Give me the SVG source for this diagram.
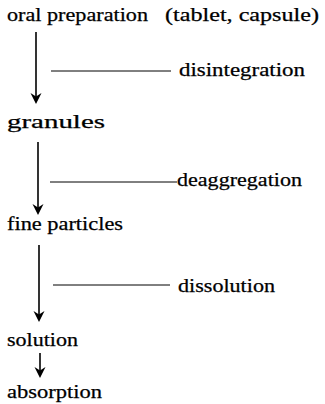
<svg xmlns="http://www.w3.org/2000/svg" width="325" height="404" viewBox="0 0 325 404">
<defs>
<style>
text{font-family:"Liberation Serif","Times New Roman",serif;font-size:19px;fill:#000;stroke:#000;stroke-width:0.25}
.ln{stroke:#000;stroke-width:1.6;fill:none}
.lb{stroke:#000;stroke-width:1;fill:none}
.ah{fill:#000}
</style>
</defs>
<rect width="325" height="404" fill="#fff"/>
<g id="oral-preparation"><text x="7" y="21" textLength="141" lengthAdjust="spacingAndGlyphs">oral preparation</text></g>
<g id="tablet-capsule"><text x="165" y="21" textLength="154" lengthAdjust="spacingAndGlyphs">(tablet, capsule)</text></g>
<g id="granules"><text x="7" y="128" textLength="98" lengthAdjust="spacingAndGlyphs">granules</text></g>
<g id="fine-particles"><text x="7" y="230" textLength="116" lengthAdjust="spacingAndGlyphs">fine particles</text></g>
<g id="solution"><text x="7" y="346" textLength="71" lengthAdjust="spacingAndGlyphs">solution</text></g>
<g id="absorption"><text x="7" y="398" textLength="95" lengthAdjust="spacingAndGlyphs">absorption</text></g>
<g id="disintegration"><text x="179" y="76" textLength="126" lengthAdjust="spacingAndGlyphs">disintegration</text></g>
<g id="deaggregation"><text x="177" y="186" textLength="125" lengthAdjust="spacingAndGlyphs">deaggregation</text></g>
<g id="dissolution"><text x="178" y="292" textLength="97" lengthAdjust="spacingAndGlyphs">dissolution</text></g>
<g id="connectors">
<path class="ln" d="M36,32 V100"/>
<path class="ah" d="M36,104 L30.5,93 L36,96.5 L41.5,93 Z"/>
<path class="ln" d="M38,142 V211"/>
<path class="ah" d="M38,215 L32.5,204 L38,207.5 L43.5,204 Z"/>
<path class="ln" d="M39,245 V318"/>
<path class="ah" d="M39,322 L33.5,311 L39,314.5 L44.5,311 Z"/>
<path class="ln" d="M40,353 V374"/>
<path class="ah" d="M40,378 L34.5,367 L40,370.5 L45.5,367 Z"/>
<path class="lb" d="M51,71 H171"/>
<path class="lb" d="M50,182 H177"/>
<path class="lb" d="M53,285 H170"/>
</g>
</svg>
